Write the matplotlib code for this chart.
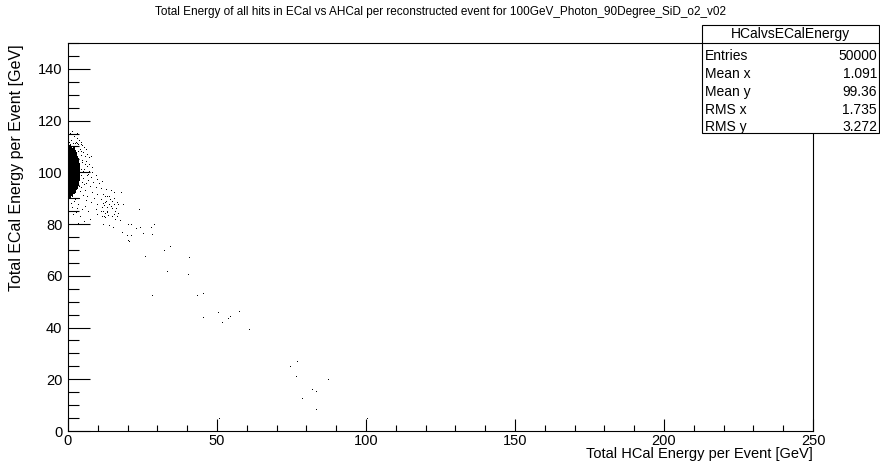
import matplotlib
matplotlib.use('Agg')
import matplotlib.pyplot as plt
from matplotlib.patches import Rectangle
from matplotlib.lines import Line2D
from matplotlib.ticker import MultipleLocator

# ------------------------------------------------------------------------------
# Data
# ------------------------------------------------------------------------------
# dense core of the distribution (solid black region)
core_x = [0.0, 0.4, 0.8, 1.2, 1.6, 2.0, 2.4, 2.8, 3.2, 3.6, 4.0]
core_lo = [89.0, 89.5, 90.0, 90.8, 90.5, 91.5, 92.0, 93.0, 93.5, 95.0, 96.5]
core_hi = [111.0, 110.5, 110.8, 110.0, 109.5, 109.8, 108.5, 108.0, 106.5,
           105.5, 103.5]

# sparse events around the core and along the tail
hcal_e = [2.0, 2.9, 3.7, 2.6, 4.3, 3.4, 4.8, 5.4, 4.0, 5.9, 5.1, 6.5, 5.6, 7.0,
          7.6, 1.3, 0.7, 3.0,
          4.8, 5.6, 6.5, 5.4, 7.0, 8.2, 6.3, 7.6, 9.3, 9.8, 6.7, 8.5, 10.4,
          11.5, 5.4, 7.4, 9.3, 11.0, 12.7, 14.3, 8.2, 9.8, 11.8, 13.2, 15.4,
          6.5, 8.7, 11.0, 12.7, 14.9, 16.5, 7.6, 9.8, 12.1, 14.3, 16.0, 17.7,
          9.3, 11.0, 13.2, 15.4, 16.5, 12.1, 9.8,
          12.4, 13.9, 14.1, 15.4, 12.4, 11.6, 13.9, 15.4, 16.9, 18.4, 11.3,
          13.0, 14.7, 16.1, 11.6, 13.0, 15.8, 12.4, 13.5, 16.9, 11.3, 12.4,
          14.7, 15.8, 17.4,
          2.3, 3.4, 1.3, 4.7, 2.7, 5.7, 6.7, 4.0, 1.7, 7.4, 5.4, 3.4, 0.7,
          2.0, 3.7, 5.0, 6.0, 1.0, 3.0,
          4.5, 4.2, 4.6, 4.3, 4.5, 4.8, 4.2, 4.0, 5.0, 6.0, 5.2, 6.2, 3.8,
          4.4, 3.5, 6.8, 5.8, 7.2, 8.0, 2.2, 1.0, 0.5, 1.6, 3.1,
          23.8, 11.8, 13.7, 15.2, 20.0, 21.1, 22.9, 24.2, 28.9, 27.9, 18.0,
          21.1, 25.3, 28.2, 19.9, 20.2, 20.6, 34.3, 32.2, 25.7, 40.7, 33.1,
          40.2, 28.2, 43.2, 45.4, 45.4, 50.3, 51.8, 53.6, 54.3, 57.3, 60.7,
          76.9, 74.5, 76.6, 87.1, 81.9, 83.2, 78.5, 83.1, 50.6, 100.2]
ecal_e = [113.8, 112.8, 112.3, 111.5, 111.3, 110.6, 110.0, 109.4, 108.7,
          108.7, 107.4, 106.8, 106.1, 105.5, 106.1, 115.7, 114.9, 114.9,
          104.2, 102.9, 102.2, 101.0, 100.3, 99.7, 98.6, 97.8, 98.4, 97.1,
          96.8, 95.8, 95.6, 96.1, 95.2, 94.3, 93.9, 93.5, 93.2, 92.6, 92.0,
          91.3, 91.3, 90.6, 92.0, 90.6, 89.6, 89.4, 88.7, 88.7, 88.1, 88.1,
          87.4, 86.8, 86.5, 85.8, 92.0, 85.5, 84.8, 84.2, 83.6, 82.9, 82.7,
          83.6,
          90.6, 90.6, 89.4, 89.7, 88.1, 87.7, 87.4, 87.4, 87.4, 87.4, 86.1,
          86.1, 85.9, 85.9, 84.8, 84.8, 84.8, 83.8, 83.3, 83.8, 82.9, 82.3,
          82.9, 81.6, 81.0,
          89.4, 87.4, 86.3, 85.5, 84.3, 86.7, 84.7, 82.8, 83.6, 81.6, 80.9,
          80.1, 90.1, 88.6, 89.7, 90.9, 88.9, 87.8, 85.9,
          108.0, 106.5, 103.5, 101.0, 98.5, 96.0, 93.8, 92.5, 100.0, 104.0,
          97.5, 95.5, 94.5, 110.5, 107.8, 99.0, 92.6, 103.0, 101.5, 111.0,
          112.0, 111.5, 110.8, 111.0,
          85.5, 79.7, 79.3, 78.4, 79.7, 79.6, 78.0, 78.4, 79.7, 78.4, 76.5,
          75.4, 76.1, 75.6, 75.2, 73.6, 73.0, 71.0, 69.4, 67.4, 67.0, 61.6,
          60.4, 52.2, 52.2, 52.9, 43.6, 45.5, 41.7, 43.2, 44.0, 46.0, 38.9,
          26.6, 24.9, 20.9, 19.7, 15.7, 15.0, 12.3, 8.3, 4.8, 4.6]

stats_names = ['Entries', 'Mean x', 'Mean y', 'RMS x', 'RMS y']
stats_values = ['50000', '1.091', '99.36', '1.735', '3.272']

# ------------------------------------------------------------------------------
# Figure
# ------------------------------------------------------------------------------
plt.rcParams['font.family'] = ['Liberation Sans', 'DejaVu Sans']

W, H = 880, 465
fig = plt.figure(figsize=(W / 100, H / 100), dpi=100)
ax = fig.add_axes([68 / W, 1 - 431 / H, 745 / W, 388 / H])

ax.fill_between(core_x, core_lo, core_hi, step='mid', color='black', lw=0,
                zorder=2)
ax.plot(hcal_e, ecal_e, ls='none', marker=',', color='black', zorder=2)

ax.set_xlim(0, 250)
ax.set_ylim(0, 150)

ax.xaxis.set_major_locator(MultipleLocator(50))
ax.xaxis.set_minor_locator(MultipleLocator(10))
ax.yaxis.set_major_locator(MultipleLocator(20))
ax.yaxis.set_minor_locator(MultipleLocator(5))

ax.tick_params(axis='x', which='major', direction='in', length=8.4,
               width=0.8, pad=2, labelsize=10.5)
ax.tick_params(axis='x', which='minor', direction='in', length=4.2,
               width=0.8)
ax.tick_params(axis='y', which='major', direction='in', length=16,
               width=0.8, pad=4, labelsize=10.5)
ax.tick_params(axis='y', which='minor', direction='in', length=8,
               width=0.8)
for s in ax.spines.values():
    s.set_linewidth(0.8)

# titles
fig.text(0.5, 1 - 12 / H, 'Total Energy of all hits in ECal vs AHCal per '
         'reconstructed event for 100GeV_Photon_90Degree_SiD_o2_v02',
         ha='center', va='center', fontsize=8.5)
fig.text(813 / W, 1 - 454 / H, 'Total HCal Energy per Event [GeV]',
         ha='right', va='center', fontsize=10.5)
fig.text(17 / W, 1 - 44 / H, 'Total ECal Energy per Event [GeV]',
         ha='center', va='top', rotation=90, fontsize=11.5)

# stats box
bx0, bx1, by0, by1 = 702, 879, 25, 133
fig.add_artist(Rectangle((bx0 / W, 1 - by1 / H), (bx1 - bx0) / W,
                         (by1 - by0) / H, transform=fig.transFigure,
                         facecolor='white', edgecolor='black', lw=0.8,
                         zorder=5))
fig.add_artist(Line2D([bx0 / W, bx1 / W], [1 - 43 / H, 1 - 43 / H],
                      transform=fig.transFigure, color='black', lw=0.8,
                      zorder=6))
fig.text((bx0 + bx1) / 2 / W, 1 - 34 / H, 'HCalvsECalEnergy',
         ha='center', va='center', fontsize=10, zorder=7)
row_y = [56, 74, 92, 110, 127]
for name, val, ry in zip(stats_names, stats_values, row_y):
    fig.text(705 / W, 1 - ry / H, name, ha='left', va='center',
             fontsize=10, zorder=7)
    fig.text(877 / W, 1 - ry / H, val, ha='right', va='center',
             fontsize=10, zorder=7)

fig.savefig('out.png', dpi=100)
